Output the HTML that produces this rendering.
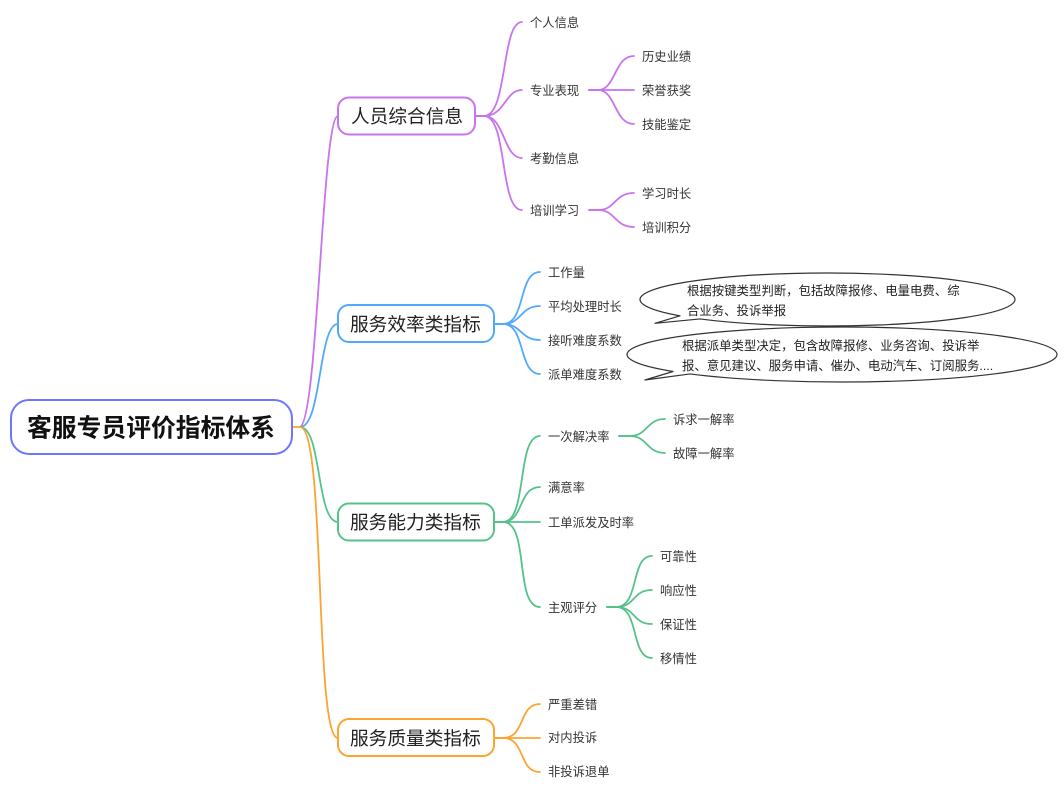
<!DOCTYPE html>
<html><head><meta charset="utf-8">
<style>
html,body{margin:0;padding:0;background:#fff;width:1064px;height:794px;overflow:hidden}
svg{display:block;filter:blur(.35px)}
text{font-family:"Liberation Sans","Noto Sans CJK SC",sans-serif;fill:#333;font-size:12.3px;transform:translateY(.4px)}
.r{font-size:24.8px;font-weight:700;fill:#111}
.m{font-size:18.7px;fill:#222}
.b{font-size:12.4px;fill:#222}
path{fill:none;stroke-width:1.8;stroke-linecap:round}
rect{fill:#fff;stroke-width:2}
.p path{stroke:#c873f0}.u path{stroke:#52a9fb}.g path{stroke:#55c289}.o path{stroke:#fba431}
.bal{stroke:#333;stroke-width:1.2;stroke-linejoin:round;fill:#fff}
</style></head><body>
<svg width="1064" height="794" viewBox="0 0 1064 794" xmlns="http://www.w3.org/2000/svg">
<g class="p"><path d="M300 427C318 420 322 116 338 116"/>
<path d="M475 116H484C508 116 501 22 522 22"/>
<path d="M475 116H484C505 116 505 90 522 90"/>
<path d="M475 116H484C505 116 503 158 522 158"/>
<path d="M475 116H484C508 116 499 210 522 210"/>
<path d="M589 90H598C616 90 614 56 634 56"/>
<path d="M589 90H634"/>
<path d="M589 90H598C616 90 614 124 634 124"/>
<path d="M589 210H598C616 210 614 193 634 193"/>
<path d="M589 210H598C616 210 614 227 634 227"/>
<rect x="338" y="97.500" width="137" height="37" rx="11" stroke="#c873f0"/></g>

<g class="u"><path d="M300 427C322 427 318 324 338 324"/>
<path d="M494 324H503C526 324 518 272 540 272"/>
<path d="M494 324H503C522 324 520 306 540 306"/>
<path d="M494 324H503C522 324 520 340 540 340"/>
<path d="M494 324H503C526 324 518 374 540 374"/>
<rect x="338" y="305" width="156" height="37" rx="11" stroke="#52a9fb"/></g>

<g class="g"><path d="M300 427C322 427 316 522 338 522"/>
<path d="M494 522H503C528 522 516 436 540 436"/>
<path d="M494 522H503C524 522 518 487 540 487"/>
<path d="M494 522H540"/>
<path d="M494 522H503C530 522 514 607 540 607"/>
<path d="M619 436H630C648 436 646 419 665 419"/>
<path d="M619 436H630C648 436 646 453 665 453"/>
<path d="M607 607H616C640 607 630 556 652 556"/>
<path d="M607 607H616C636 607 632 590 652 590"/>
<path d="M607 607H616C636 607 632 624 652 624"/>
<path d="M607 607H616C640 607 630 658 652 658"/>
<rect x="338" y="503.500" width="156" height="37" rx="11" stroke="#55c289"/></g>

<g class="o"><path d="M293 427H300C326 427 314 738 338 738"/>
<path d="M494 738H503C526 738 518 704 540 704"/>
<path d="M494 738H540"/>
<path d="M494 738H503C526 738 518 772 540 772"/>
<rect x="338" y="719" width="156" height="37" rx="11" stroke="#fba431"/></g>

<rect x="11" y="400" width="281" height="54" rx="18" stroke="#6d76ff"/>
<text x="27" y="436" class="r">客服专员评价指标体系</text>
<text x="351" y="122.500" class="m">人员综合信息</text>
<text x="350" y="330.500" class="m">服务效率类指标</text>
<text x="350" y="528.500" class="m">服务能力类指标</text>
<text x="350" y="744.500" class="m">服务质量类指标</text>

<text x="530" y="26.500">个人信息</text>
<text x="530" y="94.500">专业表现</text>
<text x="530" y="162.500">考勤信息</text>
<text x="530" y="214.500">培训学习</text>
<text x="642" y="60.500">历史业绩</text>
<text x="642" y="94.500">荣誉获奖</text>
<text x="642" y="128.500">技能鉴定</text>
<text x="642" y="197.500">学习时长</text>
<text x="642" y="231.500">培训积分</text>

<text x="548" y="276.500">工作量</text>
<text x="548" y="310.500">平均处理时长</text>
<text x="548" y="344.500">接听难度系数</text>
<text x="548" y="378.500">派单难度系数</text>

<text x="548" y="440.500">一次解决率</text>
<text x="548" y="491.500">满意率</text>
<text x="548" y="526.500">工单派发及时率</text>
<text x="548" y="611.500">主观评分</text>
<text x="673" y="423.500">诉求一解率</text>
<text x="673" y="457.500">故障一解率</text>
<text x="660" y="560.500">可靠性</text>
<text x="660" y="594.500">响应性</text>
<text x="660" y="628.500">保证性</text>
<text x="660" y="662.500">移情性</text>

<text x="548" y="708.500">严重差错</text>
<text x="548" y="741.500">对内投诉</text>
<text x="548" y="775.500">非投诉退单</text>

<path class="bal" d="M680 315.860L655 323.300L700 318.930A187.500 26.500 0 1 0 680 315.860Z"/>
<text x="687" y="294.500" class="b">根据按键类型判断，包括故障报修、电量电费、综</text>
<text x="687" y="314.500" class="b">合业务、投诉举报</text>

<path class="bal" d="M673 371.500L645 380L690 373.950A215 27.500 0 1 0 673 371.500Z"/>
<text x="682" y="349.500" class="b">根据派单类型决定，包含故障报修、业务咨询、投诉举</text>
<text x="682" y="369.500" class="b">报、意见建议、服务申请、催办、电动汽车、订阅服务....</text>
</svg>
</body></html>
